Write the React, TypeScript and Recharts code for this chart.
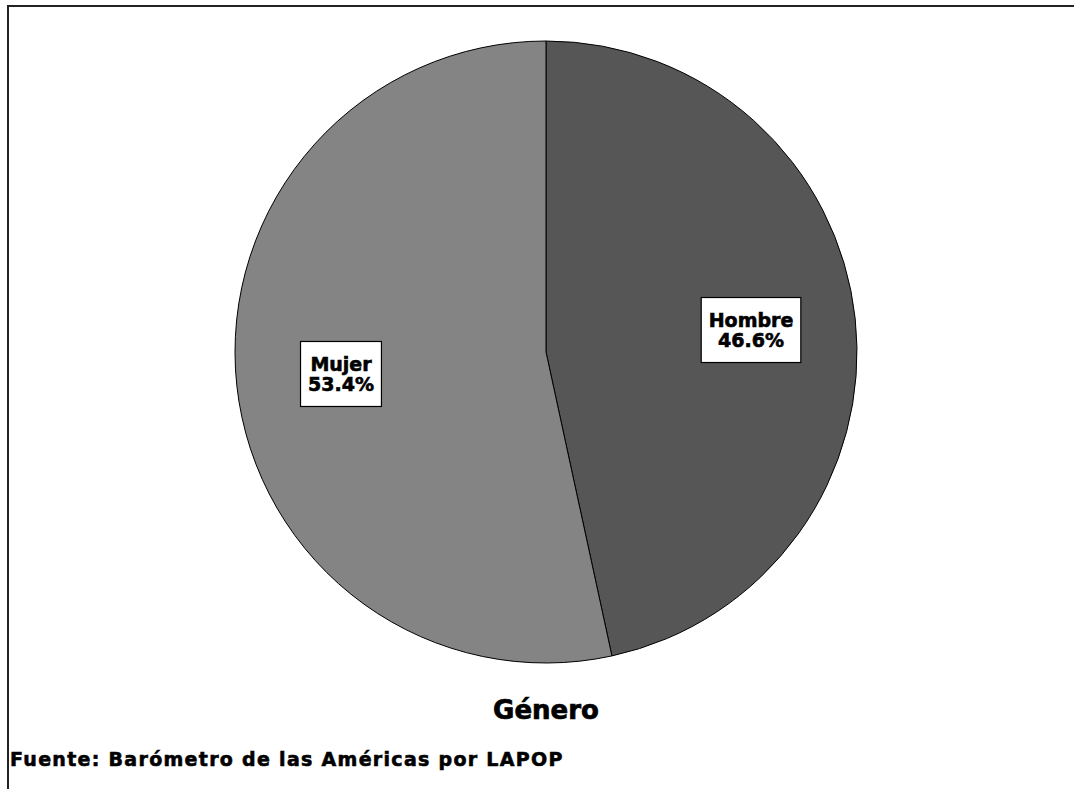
import React from 'react';
import { PieChart, Pie, Cell } from 'recharts';

const categories = ['Hombre', 'Mujer'];
const shares = [46.6, 53.4];
const sliceColors = ['#565656', '#848484'];

const data = categories.map((name, i) => ({ name, value: shares[i] }));

const FONT = '"DejaVu Sans", Verdana, sans-serif';
const LABEL_SIZE = 19;

function measure(text: string, size: number) {
  const c = document.createElement('canvas').getContext('2d');
  if (!c) return text.length * size * 0.7;
  c.font = `bold ${size}px ${FONT}`;
  return c.measureText(text).width;
}

function BoxLabel(props: any) {
  const { cx, cy, midAngle, outerRadius, name, value } = props;
  const rad = Math.PI / 180;
  const r = outerRadius * 0.663;
  const x = cx + r * Math.cos(-midAngle * rad);
  const y = cy + r * Math.sin(-midAngle * rad);
  const lines = [name, `${value.toFixed(1)}%`];
  const w = Math.max(...lines.map((l) => measure(l, LABEL_SIZE))) + 15;
  const h = 65;
  return (
    <g>
      <rect x={x - w / 2} y={y - h / 2} width={w} height={h} fill="#fff" stroke="#000" strokeWidth={1.2} />
      {lines.map((l, i) => (
        <text
          key={i}
          x={x}
          y={y - 3 + i * 20}
          textAnchor="middle"
          fontFamily={FONT}
          fontWeight="bold"
          fontSize={LABEL_SIZE}
          fill="#000"
          stroke="#000"
          strokeWidth={0.6}
        >
          {l}
        </text>
      ))}
    </g>
  );
}

export default function App() {
  return (
    <div style={{ position: 'absolute', left: 0, top: 0, width: 1074, height: 789, overflow: 'hidden', background: '#fff' }}>
      {/* frame: only top and left edges show inside the picture */}
      <div
        style={{
          position: 'absolute',
          left: 7,
          top: 5,
          width: 1200,
          height: 900,
          borderTop: '2px solid #222',
          borderLeft: '2px solid #222',
        }}
      />
      <div style={{ position: 'absolute', left: 0, top: 0 }}>
        <PieChart width={1074} height={789} margin={{ top: 0, right: 0, bottom: 0, left: 0 }}>
          <Pie
            data={data}
            dataKey="value"
            nameKey="name"
            cx={546}
            cy={352}
            outerRadius={311}
            startAngle={90}
            endAngle={-270}
            stroke="#000"
            strokeWidth={1}
            label={BoxLabel}
            labelLine={false}
            isAnimationActive={false}
          >
            {data.map((d, i) => (
              <Cell key={d.name} fill={sliceColors[i]} />
            ))}
          </Pie>
        </PieChart>
      </div>
      <div
        style={{
          position: 'absolute',
          left: 0,
          width: 1092,
          top: 695,
          textAlign: 'center',
          fontFamily: FONT,
          fontWeight: 'bold',
          fontSize: 26,
          color: '#000',
          WebkitTextStroke: '0.7px #000',
        }}
      >
        Género
      </div>
      <div
        style={{
          position: 'absolute',
          left: 10,
          top: 748,
          fontFamily: FONT,
          fontWeight: 'bold',
          fontSize: 19,
          letterSpacing: 1.3,
          color: '#000',
          whiteSpace: 'nowrap',
          WebkitTextStroke: '0.6px #000',
        }}
      >
        Fuente: Barómetro de las Américas por LAPOP
      </div>
    </div>
  );
}
